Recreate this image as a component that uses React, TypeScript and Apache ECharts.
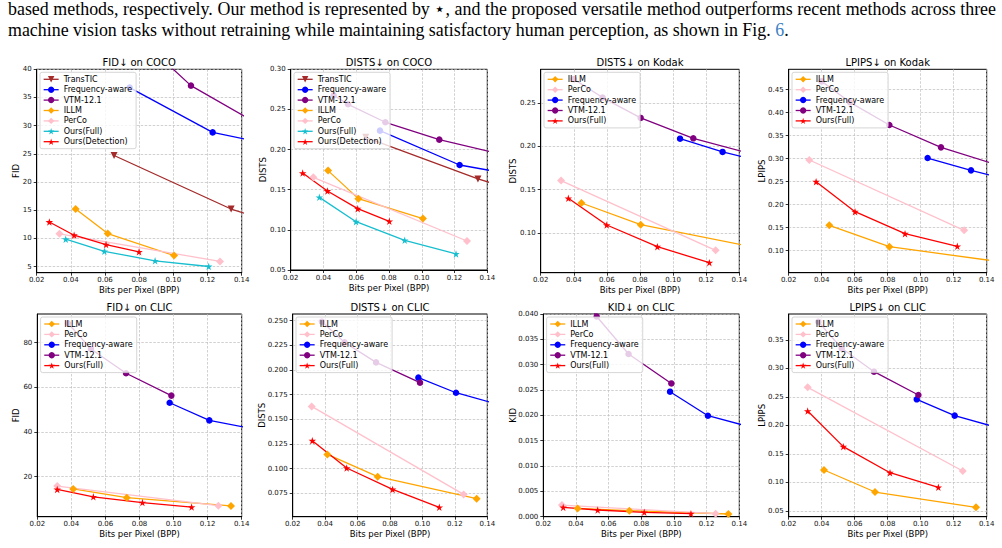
import React, { useEffect, useRef } from 'react';
import * as echarts from 'echarts';

type Pt = [number, number];

// Shared x ticks (bits per pixel)
const bppTicks = [0.02, 0.04, 0.06, 0.08, 0.1, 0.12, 0.14];

// ---- FID on COCO ----
const fidCocoTicks = [5, 10, 15, 20, 25, 30, 35, 40];
const fidCocoTransTIC: Pt[] = [[0.0653, 24.7], [0.1338, 15.2], [0.16, 12.7]];
const fidCocoFreq: Pt[] = [[0.0744, 36.75], [0.123, 28.8], [0.16, 26.5]];
const fidCocoVTM: Pt[] = [[0.0778, 46.2], [0.1103, 37.1], [0.16, 28.5]];
const fidCocoILLM: Pt[] = [[0.0428, 15.2], [0.0616, 10.85], [0.1004, 6.95]];
const fidCocoPerCo: Pt[] = [[0.0333, 10.8], [0.1273, 5.9]];
const fidCocoFull: Pt[] = [[0.037, 9.85], [0.0596, 7.7], [0.0893, 6.0], [0.1207, 5.0]];
const fidCocoDet: Pt[] = [[0.0274, 12.9], [0.0419, 10.55], [0.0606, 8.9], [0.0799, 7.6]];

// ---- DISTS on COCO ----
const distsCocoTicks = [0.05, 0.1, 0.15, 0.2, 0.25, 0.3];
const distsCocoTransTIC: Pt[] = [[0.0658, 0.2153], [0.1343, 0.1634], [0.16, 0.148]];
const distsCocoFreq: Pt[] = [[0.0745, 0.2236], [0.1231, 0.1808], [0.16, 0.1673]];
const distsCocoVTM: Pt[] = [[0.0462, 0.2676], [0.055, 0.2564], [0.0778, 0.234], [0.1107, 0.2124], [0.16, 0.1887]];
const distsCocoILLM: Pt[] = [[0.0428, 0.1738], [0.0613, 0.1389], [0.1007, 0.114]];
const distsCocoPerCo: Pt[] = [[0.0338, 0.1655], [0.1276, 0.0861]];
const distsCocoFull: Pt[] = [[0.0375, 0.1405], [0.0599, 0.1102], [0.0896, 0.087], [0.1209, 0.07]];
const distsCocoDet: Pt[] = [[0.0273, 0.1708], [0.0424, 0.1484], [0.0609, 0.1264], [0.0802, 0.1106]];

// ---- DISTS on Kodak ----
const distsKodakTicks = [0.1, 0.15, 0.2, 0.25];
const distsKodakILLM: Pt[] = [[0.0446, 0.1346], [0.0804, 0.1096], [0.16, 0.0793]];
const distsKodakPerCo: Pt[] = [[0.0323, 0.1604], [0.1257, 0.08]];
const distsKodakFreq: Pt[] = [[0.1042, 0.2088], [0.1299, 0.1935], [0.16, 0.1795]];
const distsKodakVTM: Pt[] = [[0.04, 0.2775], [0.0574, 0.2562], [0.0804, 0.2327], [0.1122, 0.2092], [0.16, 0.1848]];
const distsKodakFull: Pt[] = [[0.0367, 0.14], [0.0599, 0.1092], [0.0905, 0.0842], [0.1219, 0.0658]];

// ---- LPIPS on Kodak ----
const lpipsKodakTicks = [0.1, 0.15, 0.2, 0.25, 0.3, 0.35, 0.4, 0.45];
const lpipsKodakILLM: Pt[] = [[0.0446, 0.155], [0.081, 0.1087], [0.16, 0.07]];
const lpipsKodakPerCo: Pt[] = [[0.0325, 0.2971], [0.1263, 0.1442]];
const lpipsKodakFreq: Pt[] = [[0.1042, 0.3014], [0.1305, 0.2746], [0.16, 0.248]];
const lpipsKodakVTM: Pt[] = [[0.04, 0.468], [0.0572, 0.4225], [0.081, 0.3732], [0.1123, 0.3246], [0.16, 0.271]];
const lpipsKodakFull: Pt[] = [[0.0366, 0.25], [0.0602, 0.1848], [0.0905, 0.137], [0.1222, 0.1094]];

// ---- FID on CLIC ----
const fidClicTicks = [20, 40, 60, 80];
const fidClicILLM: Pt[] = [[0.0411, 14.5], [0.0725, 10.6], [0.1337, 6.9]];
const fidClicPerCo: Pt[] = [[0.0317, 15.8], [0.1263, 7.0]];
const fidClicFreq: Pt[] = [[0.0977, 53.1], [0.121, 45.2], [0.16, 39.5]];
const fidClicVTM: Pt[] = [[0.038, 88.7], [0.0515, 77.2], [0.0721, 66.3], [0.0987, 56.3]];
const fidClicFull: Pt[] = [[0.0317, 14.3], [0.0529, 11.0], [0.0817, 8.4], [0.1106, 6.4]];

// ---- DISTS on CLIC ----
const distsClicTicks = [0.075, 0.1, 0.125, 0.15, 0.175, 0.2, 0.225, 0.25];
const distsClicILLM: Pt[] = [[0.0414, 0.1143], [0.0724, 0.0917], [0.1334, 0.0694]];
const distsClicPerCo: Pt[] = [[0.0317, 0.163], [0.1254, 0.0737]];
const distsClicFreq: Pt[] = [[0.0975, 0.1922], [0.1207, 0.1769], [0.16, 0.159]];
const distsClicVTM: Pt[] = [[0.038, 0.249], [0.052, 0.228], [0.0714, 0.2077], [0.0985, 0.1871]];
const distsClicFull: Pt[] = [[0.0321, 0.1282], [0.0533, 0.1005], [0.0816, 0.0788], [0.1104, 0.0606]];

// ---- KID on CLIC ----
const kidClicTicks = [0, 0.005, 0.01, 0.015, 0.02, 0.025, 0.03, 0.035, 0.04];
const kidClicILLM: Pt[] = [[0.041, 0.00164], [0.0727, 0.00118], [0.1333, 0.00053]];
const kidClicPerCo: Pt[] = [[0.0314, 0.0023], [0.1255, 0.00059]];
const kidClicFreq: Pt[] = [[0.0976, 0.02467], [0.1208, 0.01993], [0.16, 0.01658]];
const kidClicVTM: Pt[] = [[0.038, 0.047], [0.0527, 0.0395], [0.0722, 0.0321], [0.0984, 0.0263]];
const kidClicFull: Pt[] = [[0.0322, 0.00184], [0.0533, 0.00132], [0.0818, 0.00086], [0.1104, 0.00059]];

// ---- LPIPS on CLIC ----
const lpipsClicTicks = [0.05, 0.1, 0.15, 0.2, 0.25, 0.3, 0.35];
const lpipsClicILLM: Pt[] = [[0.0414, 0.1219], [0.0723, 0.0833], [0.1335, 0.0564]];
const lpipsClicPerCo: Pt[] = [[0.0315, 0.267], [0.1255, 0.1202]];
const lpipsClicFreq: Pt[] = [[0.0976, 0.2459], [0.1206, 0.2173], [0.16, 0.1852]];
const lpipsClicVTM: Pt[] = [[0.038, 0.382], [0.0521, 0.3354], [0.0717, 0.2944], [0.0986, 0.2535]];
const lpipsClicFull: Pt[] = [[0.0315, 0.2254], [0.0531, 0.1629], [0.0814, 0.1172], [0.1107, 0.0915]];

const FONT = 'DejaVu Sans';
const BROWN = '#a52a2a';
const BLUE = '#0000ff';
const PURPLE = '#800080';
const ORANGE = '#ffa500';
const PINK = '#ffc0cb';
const CYAN = '#17becf';
const RED = '#ff0000';

const STAR =
  'path://M0,-10L2.245,-3.09L9.51,-3.09L3.633,1.18L5.88,8.09L0,3.82L-5.88,8.09L-3.633,1.18L-9.51,-3.09L-2.245,-3.09Z';

const markerOf: Record<string, { symbol: string; size: number; rotate?: number }> = {
  TransTIC: { symbol: 'triangle', size: 7, rotate: 180 },
  'Frequency-aware': { symbol: 'circle', size: 6.5 },
  'VTM-12.1': { symbol: 'circle', size: 6.5 },
  ILLM: { symbol: 'diamond', size: 8 },
  PerCo: { symbol: 'diamond', size: 8 },
  'Ours(Full)': { symbol: STAR, size: 7.5 },
  'Ours(Detection)': { symbol: STAR, size: 7.5 },
};

interface SeriesSpec { name: string; data: Pt[]; color: string }
interface Panel {
  title: string;
  yName: string;
  yNameX: number;
  rect: [number, number, number, number];
  yMin: number;
  yMax: number;
  yTicks: number[];
  yDigits: number;
  series: SeriesSpec[];
}

const TOP = 69.3;
const TOP_H = 203.4;
const BOT = 314;
const BOT_H = 202.7;

const panels: Panel[] = [
  {
    title: 'FID↓ on COCO', yName: 'FID', yNameX: 16, rect: [36.7, TOP, 205, TOP_H],
    yMin: 3.9, yMax: 40, yTicks: fidCocoTicks, yDigits: 0,
    series: [
      { name: 'TransTIC', data: fidCocoTransTIC, color: BROWN },
      { name: 'Frequency-aware', data: fidCocoFreq, color: BLUE },
      { name: 'VTM-12.1', data: fidCocoVTM, color: PURPLE },
      { name: 'ILLM', data: fidCocoILLM, color: ORANGE },
      { name: 'PerCo', data: fidCocoPerCo, color: PINK },
      { name: 'Ours(Full)', data: fidCocoFull, color: CYAN },
      { name: 'Ours(Detection)', data: fidCocoDet, color: RED },
    ],
  },
  {
    title: 'DISTS↓ on COCO', yName: 'DISTS', yNameX: 263.3, rect: [290.7, TOP, 196.6, 200.7],
    yMin: 0.05, yMax: 0.3, yTicks: distsCocoTicks, yDigits: 2,
    series: [
      { name: 'TransTIC', data: distsCocoTransTIC, color: BROWN },
      { name: 'Frequency-aware', data: distsCocoFreq, color: BLUE },
      { name: 'VTM-12.1', data: distsCocoVTM, color: PURPLE },
      { name: 'ILLM', data: distsCocoILLM, color: ORANGE },
      { name: 'PerCo', data: distsCocoPerCo, color: PINK },
      { name: 'Ours(Full)', data: distsCocoFull, color: CYAN },
      { name: 'Ours(Detection)', data: distsCocoDet, color: RED },
    ],
  },
  {
    title: 'DISTS↓ on Kodak', yName: 'DISTS', yNameX: 513.3, rect: [540.7, TOP, 198.6, TOP_H],
    yMin: 0.0542, yMax: 0.2888, yTicks: distsKodakTicks, yDigits: 2,
    series: [
      { name: 'ILLM', data: distsKodakILLM, color: ORANGE },
      { name: 'PerCo', data: distsKodakPerCo, color: PINK },
      { name: 'Frequency-aware', data: distsKodakFreq, color: BLUE },
      { name: 'VTM-12.1', data: distsKodakVTM, color: PURPLE },
      { name: 'Ours(Full)', data: distsKodakFull, color: RED },
    ],
  },
  {
    title: 'LPIPS↓ on Kodak', yName: 'LPIPS', yNameX: 761.7, rect: [788.7, TOP, 198, TOP_H],
    yMin: 0.0521, yMax: 0.4943, yTicks: lpipsKodakTicks, yDigits: 2,
    series: [
      { name: 'ILLM', data: lpipsKodakILLM, color: ORANGE },
      { name: 'PerCo', data: lpipsKodakPerCo, color: PINK },
      { name: 'Frequency-aware', data: lpipsKodakFreq, color: BLUE },
      { name: 'VTM-12.1', data: lpipsKodakVTM, color: PURPLE },
      { name: 'Ours(Full)', data: lpipsKodakFull, color: RED },
    ],
  },
  {
    title: 'FID↓ on CLIC', yName: 'FID', yNameX: 16, rect: [37.3, BOT, 204.4, BOT_H],
    yMin: 2.08, yMax: 92.84, yTicks: fidClicTicks, yDigits: 0,
    series: [
      { name: 'ILLM', data: fidClicILLM, color: ORANGE },
      { name: 'PerCo', data: fidClicPerCo, color: PINK },
      { name: 'Frequency-aware', data: fidClicFreq, color: BLUE },
      { name: 'VTM-12.1', data: fidClicVTM, color: PURPLE },
      { name: 'Ours(Full)', data: fidClicFull, color: RED },
    ],
  },
  {
    title: 'DISTS↓ on CLIC', yName: 'DISTS', yNameX: 261.7, rect: [292.7, BOT, 194.6, BOT_H],
    yMin: 0.0511, yMax: 0.2568, yTicks: distsClicTicks, yDigits: 3,
    series: [
      { name: 'ILLM', data: distsClicILLM, color: ORANGE },
      { name: 'PerCo', data: distsClicPerCo, color: PINK },
      { name: 'Frequency-aware', data: distsClicFreq, color: BLUE },
      { name: 'VTM-12.1', data: distsClicVTM, color: PURPLE },
      { name: 'Ours(Full)', data: distsClicFull, color: RED },
    ],
  },
  {
    title: 'KID↓ on CLIC', yName: 'KID', yNameX: 512.7, rect: [543.3, BOT, 196, BOT_H],
    yMin: 0, yMax: 0.04, yTicks: kidClicTicks, yDigits: 3,
    series: [
      { name: 'ILLM', data: kidClicILLM, color: ORANGE },
      { name: 'PerCo', data: kidClicPerCo, color: PINK },
      { name: 'Frequency-aware', data: kidClicFreq, color: BLUE },
      { name: 'VTM-12.1', data: kidClicVTM, color: PURPLE },
      { name: 'Ours(Full)', data: kidClicFull, color: RED },
    ],
  },
  {
    title: 'LPIPS↓ on CLIC', yName: 'LPIPS', yNameX: 761.7, rect: [788.7, BOT, 198, BOT_H],
    yMin: 0.04, yMax: 0.3956, yTicks: lpipsClicTicks, yDigits: 2,
    series: [
      { name: 'ILLM', data: lpipsClicILLM, color: ORANGE },
      { name: 'PerCo', data: lpipsClicPerCo, color: PINK },
      { name: 'Frequency-aware', data: lpipsClicFreq, color: BLUE },
      { name: 'VTM-12.1', data: lpipsClicVTM, color: PURPLE },
      { name: 'Ours(Full)', data: lpipsClicFull, color: RED },
    ],
  },
];

const gridLine = { show: true, lineStyle: { color: '#bdbdbd', type: [2.5, 1.5], width: 0.7 } };
const tickLine = { color: '#000', width: 0.8 };

function buildOption() {
  const grid: any[] = [];
  const xAxis: any[] = [];
  const yAxis: any[] = [];
  const legend: any[] = [];
  const series: any[] = [];
  const graphic: any[] = [];

  panels.forEach((p, i) => {
    const [left, top, width, height] = p.rect;
    grid.push({
      left, top, width, height,
      show: true, borderColor: '#000', borderWidth: 1,
      backgroundColor: 'transparent', containLabel: false, outerBoundsMode: 'none',
    });
    xAxis.push({
      type: 'value', gridIndex: i, min: 0.02, max: 0.14,
      axisLine: { show: true, onZero: false, lineStyle: { color: '#000', width: 1 } },
      axisTick: { show: true, customValues: bppTicks, length: 3, lineStyle: tickLine },
      axisLabel: {
        customValues: bppTicks, fontSize: 7, fontFamily: FONT, color: '#111', margin: 4,
        formatter: (v: number) => v.toFixed(2),
      },
      splitLine: gridLine,
    });
    yAxis.push({
      type: 'value', gridIndex: i, min: p.yMin, max: p.yMax,
      axisLine: { show: true, onZero: false, lineStyle: { color: '#000', width: 1 } },
      axisTick: { show: true, customValues: p.yTicks, length: 3, lineStyle: tickLine },
      axisLabel: {
        customValues: p.yTicks, fontSize: 7, fontFamily: FONT, color: '#111', margin: 5,
        formatter: (v: number) => v.toFixed(p.yDigits),
      },
      splitLine: gridLine,
    });
    legend.push({
      orient: 'vertical', left: left + 3.3, top: top + 3,
      itemWidth: 15, itemHeight: 8, itemGap: 2.4,
      padding: [3, 4, 3, 3],
      backgroundColor: 'rgba(255,255,255,0.8)', borderColor: '#cccccc', borderWidth: 0.8, borderRadius: 2,
      textStyle: { fontSize: 8, fontFamily: FONT, color: '#000', lineHeight: 8 },
      selectedMode: false, z: 10,
      data: p.series.map((s) => ({
        name: s.name,
        itemStyle: { color: s.color, borderWidth: 0 },
        lineStyle: { color: s.color, width: 1.3 },
      })),
    });
    p.series.forEach((s) => {
      const m = markerOf[s.name];
      series.push({
        type: 'line', name: s.name, xAxisIndex: i, yAxisIndex: i, data: s.data,
        symbol: m.symbol, symbolSize: m.size, symbolRotate: m.rotate || 0,
        showSymbol: true, showAllSymbol: true, clip: true, silent: true,
        lineStyle: { color: s.color, width: 1.3 },
        itemStyle: { color: s.color, borderWidth: 0 },
        emphasis: { disabled: true },
      });
    });
    // panel title
    graphic.push({
      type: 'text', x: left + width / 2, y: top - 6.6,
      style: {
        text: p.title, fontSize: 10, fontFamily: FONT, fill: '#000',
        align: 'center', verticalAlign: 'middle', textAlign: 'center', textVerticalAlign: 'middle',
      },
    });
    // x axis name
    graphic.push({
      type: 'text', x: left + width / 2, y: top + height + 17.5,
      style: {
        text: 'Bits per Pixel (BPP)', fontSize: 8.5, fontFamily: FONT, fill: '#000',
        align: 'center', verticalAlign: 'middle', textAlign: 'center', textVerticalAlign: 'middle',
      },
    });
    // y axis name
    graphic.push({
      type: 'text', x: p.yNameX, y: top + height / 2, rotation: Math.PI / 2,
      style: {
        text: p.yName, fontSize: 8.5, fontFamily: FONT, fill: '#000',
        align: 'center', verticalAlign: 'middle', textAlign: 'center', textVerticalAlign: 'middle',
      },
    });
  });

  return {
    animation: false,
    backgroundColor: '#ffffff',
    grid, xAxis, yAxis, legend, series, graphic,
  };
}

const paraStyle: React.CSSProperties = {
  position: 'absolute',
  left: 8,
  fontFamily: '"Liberation Serif", "Times New Roman", serif',
  fontSize: 17.9,
  lineHeight: '21.5px',
  color: '#000',
  margin: 0,
};

export default function App() {
  const ref = useRef<HTMLDivElement>(null);
  useEffect(() => {
    if (!ref.current) return;
    const chart = echarts.init(ref.current, undefined, { renderer: 'svg' });
    chart.setOption(buildOption() as any);
    return () => chart.dispose();
  }, []);
  return (
    <div style={{ position: 'absolute', left: 0, top: 0, width: 1002, height: 548, background: '#fff', overflow: 'hidden' }}>
      <div ref={ref} style={{ position: 'absolute', left: 0, top: 0, width: 1002, height: 548 }} />
      <div style={{ ...paraStyle, top: -1.2, width: 988, textAlign: 'justify', textAlignLast: 'justify' }}>
        based methods, respectively. Our method is represented by ⋆, and the proposed versatile method outperforms recent methods across three
      </div>
      <div style={{ ...paraStyle, top: 20.3 }}>
        machine vision tasks without retraining while maintaining satisfactory human perception, as shown in Fig. <span style={{ color: '#3b7fc4' }}>6</span>.
      </div>
    </div>
  );
}
